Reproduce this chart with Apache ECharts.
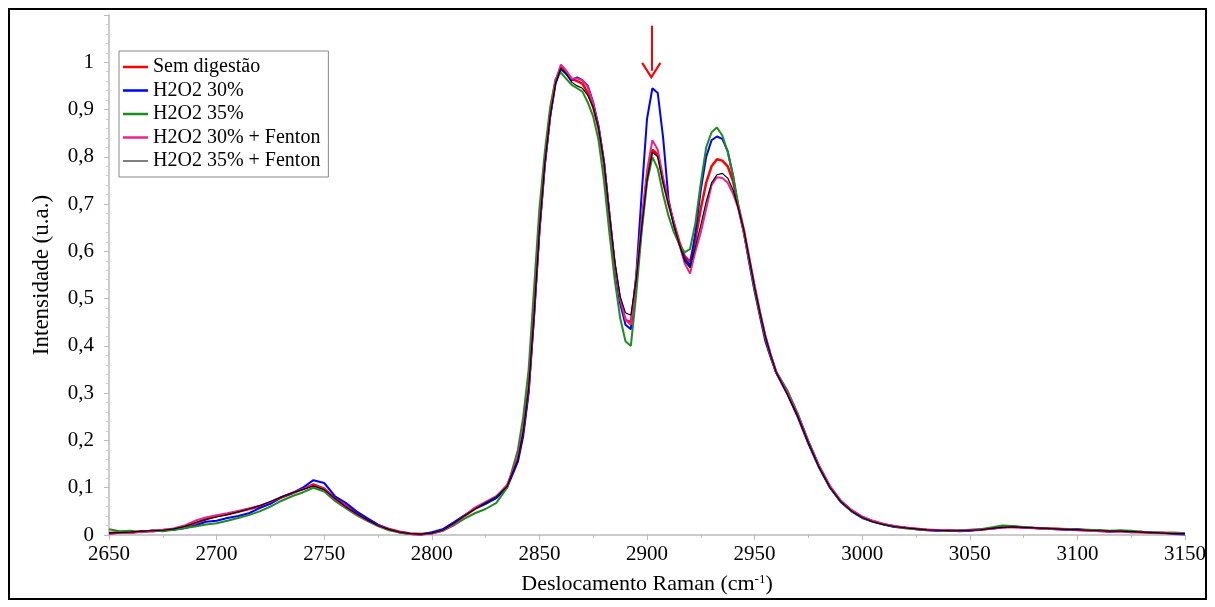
<!DOCTYPE html>
<html>
<head>
<meta charset="utf-8">
<script src="https://cdn.jsdelivr.net/npm/echarts@6/dist/echarts.min.js"></script>
<style>
  html, body { margin: 0; padding: 0; background: #fff; }
  #chart { width: 1215px; height: 607px; }
</style>
</head>
<body>
<div id="chart"></div>
<script>
// deslocamento Raman (cm-1): passo 5 nas bordas, 2.5 na zona dos picos
var xs = [
  2650, 2655, 2660, 2665, 2670, 2675, 2680, 2685, 2690, 2695,
  2700, 2705, 2710, 2715, 2720, 2725, 2730, 2735, 2740, 2745,
  2750, 2755, 2760, 2765, 2770, 2775, 2780, 2785, 2790, 2795,
  2800, 2805, 2810, 2815, 2820, 2825, 2830, 2835,
  2840, 2842.5, 2845, 2847.5, 2850, 2852.5, 2855, 2857.5, 2860, 2862.5,
  2865, 2867.5, 2870, 2872.5, 2875, 2877.5, 2880, 2882.5, 2885, 2887.5,
  2890, 2892.5, 2895, 2897.5, 2900, 2902.5, 2905, 2907.5, 2910, 2912.5,
  2915, 2917.5, 2920, 2922.5, 2925, 2927.5, 2930, 2932.5, 2935, 2937.5,
  2940, 2942.5, 2945, 2947.5, 2950, 2952.5, 2955, 2957.5, 2960,
  2965, 2970, 2975, 2980, 2985, 2990, 2995, 3000, 3005, 3010,
  3015, 3020, 3025, 3030, 3035, 3040, 3045, 3050, 3055, 3060,
  3065, 3070, 3075, 3080, 3085, 3090, 3095, 3100, 3105, 3110,
  3115, 3120, 3125, 3130, 3135, 3140, 3145, 3150
];

var semDigestao = [
  0.004, 0.006, 0.005, 0.008, 0.008, 0.010, 0.012, 0.017, 0.025, 0.033,
  0.040, 0.044, 0.049, 0.055, 0.060, 0.068, 0.079, 0.088, 0.097, 0.107,
  0.098, 0.078, 0.062, 0.046, 0.033, 0.021, 0.013, 0.007, 0.003, 0.002,
  0.004, 0.010, 0.024, 0.040, 0.055, 0.067, 0.080, 0.105,
  0.16, 0.22, 0.31, 0.47, 0.65, 0.79, 0.89, 0.96, 0.99, 0.98,
  0.965, 0.96, 0.955, 0.935, 0.905, 0.86, 0.785, 0.675, 0.57, 0.495,
  0.455, 0.45, 0.54, 0.655, 0.755, 0.815, 0.805, 0.748, 0.70, 0.66,
  0.62, 0.59, 0.578, 0.625, 0.69, 0.745, 0.78, 0.795, 0.792, 0.78,
  0.748, 0.695, 0.645, 0.585, 0.525, 0.47, 0.42, 0.38, 0.345,
  0.305, 0.255, 0.197, 0.145, 0.102, 0.072, 0.052, 0.038, 0.029, 0.023,
  0.018, 0.015, 0.013, 0.011, 0.010, 0.009, 0.009, 0.010, 0.011, 0.014,
  0.017, 0.017, 0.016, 0.015, 0.014, 0.013, 0.012, 0.011, 0.010, 0.009,
  0.008, 0.008, 0.007, 0.006, 0.005, 0.004, 0.004, 0.003
];

var h2o2_30 = [
  0.003, 0.005, 0.006, 0.007, 0.009, 0.010, 0.011, 0.014, 0.020, 0.028,
  0.030, 0.036, 0.040, 0.046, 0.057, 0.066, 0.080, 0.088, 0.100, 0.116,
  0.110, 0.082, 0.068, 0.050, 0.036, 0.022, 0.012, 0.006, 0.002, 0.001,
  0.006, 0.012, 0.026, 0.041, 0.056, 0.066, 0.078, 0.100,
  0.155, 0.21, 0.30, 0.46, 0.64, 0.78, 0.885, 0.955, 0.985, 0.975,
  0.962, 0.968, 0.962, 0.95, 0.915, 0.865, 0.79, 0.68, 0.57, 0.49,
  0.445, 0.435, 0.55, 0.72, 0.88, 0.945, 0.935, 0.84, 0.71, 0.655,
  0.615, 0.585, 0.57, 0.64, 0.73, 0.80, 0.835, 0.843, 0.838, 0.812,
  0.76, 0.69, 0.64, 0.575, 0.515, 0.462, 0.41, 0.375, 0.343,
  0.300, 0.250, 0.193, 0.142, 0.100, 0.070, 0.050, 0.036, 0.028, 0.022,
  0.017, 0.016, 0.012, 0.010, 0.009, 0.010, 0.008, 0.009, 0.012, 0.013,
  0.016, 0.018, 0.016, 0.015, 0.014, 0.012, 0.011, 0.012, 0.010, 0.010,
  0.007, 0.009, 0.006, 0.007, 0.004, 0.005, 0.002, 0.001
];

var h2o2_35 = [
  0.012, 0.008, 0.009, 0.006, 0.010, 0.008, 0.011, 0.015, 0.018, 0.022,
  0.025, 0.030, 0.036, 0.042, 0.050, 0.060, 0.072, 0.082, 0.090, 0.100,
  0.092, 0.072, 0.057, 0.042, 0.030, 0.019, 0.010, 0.005, 0.002, 0.001,
  0.003, 0.009, 0.020, 0.034, 0.046, 0.055, 0.068, 0.100,
  0.18, 0.25, 0.35, 0.52, 0.69, 0.81, 0.905, 0.965, 0.978, 0.965,
  0.952, 0.945, 0.938, 0.915, 0.885, 0.835, 0.75, 0.64, 0.54, 0.46,
  0.41, 0.40, 0.51, 0.64, 0.745, 0.80, 0.775, 0.72, 0.675, 0.64,
  0.615, 0.598, 0.605, 0.66, 0.745, 0.82, 0.852, 0.862, 0.845, 0.81,
  0.76, 0.695, 0.64, 0.58, 0.52, 0.468, 0.418, 0.38, 0.345,
  0.308, 0.257, 0.198, 0.144, 0.101, 0.071, 0.051, 0.037, 0.029, 0.022,
  0.018, 0.015, 0.012, 0.011, 0.010, 0.009, 0.010, 0.011, 0.012, 0.016,
  0.020, 0.019, 0.017, 0.015, 0.014, 0.013, 0.012, 0.011, 0.011, 0.010,
  0.009, 0.010, 0.009, 0.007, 0.006, 0.005, 0.005, 0.004
];

var h2o2_30_fenton = [
  0.002, 0.005, 0.004, 0.007, 0.009, 0.011, 0.014, 0.020, 0.030, 0.037,
  0.042, 0.046, 0.051, 0.056, 0.062, 0.070, 0.080, 0.089, 0.097, 0.105,
  0.097, 0.076, 0.060, 0.044, 0.031, 0.020, 0.012, 0.006, 0.002, 0.001,
  0.003, 0.009, 0.022, 0.040, 0.058, 0.070, 0.082, 0.104,
  0.165, 0.225, 0.31, 0.47, 0.645, 0.785, 0.885, 0.96, 0.995, 0.982,
  0.965, 0.966, 0.962, 0.948, 0.912, 0.862, 0.79, 0.68, 0.575, 0.50,
  0.455, 0.445, 0.545, 0.665, 0.77, 0.835, 0.815, 0.755, 0.705, 0.66,
  0.615, 0.575, 0.553, 0.60, 0.64, 0.69, 0.74, 0.757, 0.755, 0.745,
  0.722, 0.69, 0.64, 0.585, 0.525, 0.47, 0.42, 0.38, 0.345,
  0.303, 0.254, 0.196, 0.146, 0.104, 0.073, 0.053, 0.039, 0.030, 0.023,
  0.019, 0.016, 0.013, 0.011, 0.010, 0.010, 0.009, 0.010, 0.011, 0.013,
  0.016, 0.017, 0.016, 0.015, 0.013, 0.012, 0.012, 0.010, 0.009, 0.008,
  0.007, 0.008, 0.006, 0.006, 0.005, 0.004, 0.003, 0.003
];

var h2o2_35_fenton = [
  0.004, 0.005, 0.006, 0.008, 0.009, 0.010, 0.013, 0.018, 0.026, 0.033,
  0.038, 0.043, 0.049, 0.055, 0.062, 0.071, 0.080, 0.089, 0.096, 0.104,
  0.096, 0.077, 0.060, 0.045, 0.032, 0.020, 0.012, 0.006, 0.003, 0.002,
  0.004, 0.010, 0.024, 0.040, 0.055, 0.068, 0.081, 0.103,
  0.16, 0.22, 0.31, 0.465, 0.645, 0.785, 0.885, 0.955, 0.988, 0.975,
  0.958, 0.95, 0.945, 0.93, 0.905, 0.86, 0.79, 0.68, 0.58, 0.505,
  0.47, 0.465, 0.54, 0.65, 0.75, 0.81, 0.80, 0.745, 0.70, 0.655,
  0.615, 0.58, 0.565, 0.61, 0.655, 0.705, 0.745, 0.762, 0.765, 0.755,
  0.73, 0.69, 0.645, 0.585, 0.525, 0.47, 0.42, 0.38, 0.345,
  0.300, 0.252, 0.195, 0.143, 0.101, 0.071, 0.051, 0.037, 0.028, 0.022,
  0.018, 0.015, 0.013, 0.011, 0.010, 0.009, 0.009, 0.010, 0.011, 0.014,
  0.016, 0.017, 0.016, 0.015, 0.014, 0.013, 0.012, 0.011, 0.010, 0.009,
  0.008, 0.008, 0.007, 0.006, 0.005, 0.004, 0.003, 0.003
];

var seriesNames = ['Sem digestão', 'H2O2 30%', 'H2O2 35%', 'H2O2 30% + Fenton', 'H2O2 35% + Fenton'];
var seriesData = [semDigestao, h2o2_30, h2o2_35, h2o2_30_fenton, h2o2_35_fenton];
var seriesColors = ['#ff0000', '#0000ff', '#1e8c1e', '#f0208c', '#000000'];
var seriesWidths = [2.5, 2, 2, 2, 1.2];

// seta vermelha sobre o pico de 2900
var arrowX = 2902;
var arrowTop = 1.077;
var arrowTip = 0.982;

var serif = 'Liberation Serif';

// traço da legenda: barra fina; a caixa vai de 0 a 3 para todas terem a mesma escala
var thickIcon = 'path://M0,0 L0.01,0 L0,0.01 Z M0,0.3 L25,0.3 L25,2.7 L0,2.7 Z M0,3 L0.01,3 L0,2.99 Z';
var thinIcon = 'path://M0,0 L0.01,0 L0,0.01 Z M0,0.9 L25,0.9 L25,2.1 L0,2.1 Z M0,3 L0.01,3 L0,2.99 Z';

function pairs(ys) {
  return xs.map(function (x, i) { return [x, ys[i]]; });
}

var series = seriesNames.map(function (name, i) {
  return {
    name: name,
    type: 'line',
    symbol: 'none',
    showSymbol: false,
    data: pairs(seriesData[i]),
    lineStyle: { color: seriesColors[i], width: seriesWidths[i] },
    itemStyle: { color: seriesColors[i] },
    emphasis: { disabled: true }
  };
});

series[1].markLine = {
  silent: true,
  symbol: ['none', 'path://M10,0 L20,15 L18.2,16.2 L10,3.8 L1.8,16.2 L0,15 Z'],
  symbolSize: [20, 17],
  lineStyle: { color: '#ff0000', width: 2, type: 'solid' },
  label: { show: false },
  data: [[{ coord: [arrowX, arrowTop] }, { coord: [arrowX, arrowTip] }]]
};

var chart = echarts.init(document.getElementById('chart'));
chart.setOption({
  animation: false,
  backgroundColor: '#fff',
  grid: { left: 109, right: 30, top: 15, bottom: 72 },
  legend: {
    orient: 'vertical',
    left: 119,
    top: 51,
    padding: [6, 8, 6, 4],
    itemGap: 3.5,
    itemWidth: 25,
    itemHeight: 3,
    borderColor: '#888',
    borderWidth: 1,
    textStyle: { fontFamily: serif, fontSize: 20, color: '#000', lineHeight: 20 },
    data: seriesNames.map(function (n, i) {
      return { name: n, icon: i === 4 ? thinIcon : thickIcon };
    })
  },
  xAxis: {
    type: 'value',
    min: 2650,
    max: 3150,
    interval: 50,
    name: 'Deslocamento Raman (cm{sup|-1})',
    nameLocation: 'middle',
    nameGap: 38,
    nameTextStyle: {
      fontFamily: serif, fontSize: 22, color: '#000',
      rich: { sup: { fontFamily: serif, fontSize: 13, verticalAlign: 'top', color: '#000' } }
    },
    axisLine: { lineStyle: { color: '#bbb', width: 1.5 } },
    axisTick: { lineStyle: { color: '#bbb' }, length: 5 },
    minorTick: { show: true, splitNumber: 2, length: 3, lineStyle: { color: '#bbb' } },
    splitLine: { show: false },
    axisLabel: {
      fontFamily: serif, fontSize: 21, color: '#000', margin: 9,
      formatter: function (v) { return String(v); }
    }
  },
  yAxis: {
    type: 'value',
    min: 0,
    max: 1.1,
    interval: 0.1,
    name: 'Intensidade (u.a.)',
    nameLocation: 'middle',
    nameGap: 56,
    nameTextStyle: { fontFamily: serif, fontSize: 23, color: '#000' },
    axisLine: { show: true, lineStyle: { color: '#bbb', width: 1.5 } },
    axisTick: { show: true, lineStyle: { color: '#bbb' }, length: 5 },
    minorTick: { show: true, splitNumber: 5, length: 3, lineStyle: { color: '#ccc' } },
    splitLine: { show: false },
    axisLabel: {
      fontFamily: serif, fontSize: 21, color: '#000', margin: 15,
      formatter: function (v) {
        if (v > 1.05) return '';
        return String(Math.round(v * 10) / 10).replace('.', ',');
      }
    }
  },
  graphic: [{
    type: 'rect',
    silent: true,
    shape: { x: 9, y: 9, width: 1197, height: 590 },
    style: { fill: 'none', stroke: '#000', lineWidth: 2 }
  }],
  series: series
});
</script>
</body>
</html>
